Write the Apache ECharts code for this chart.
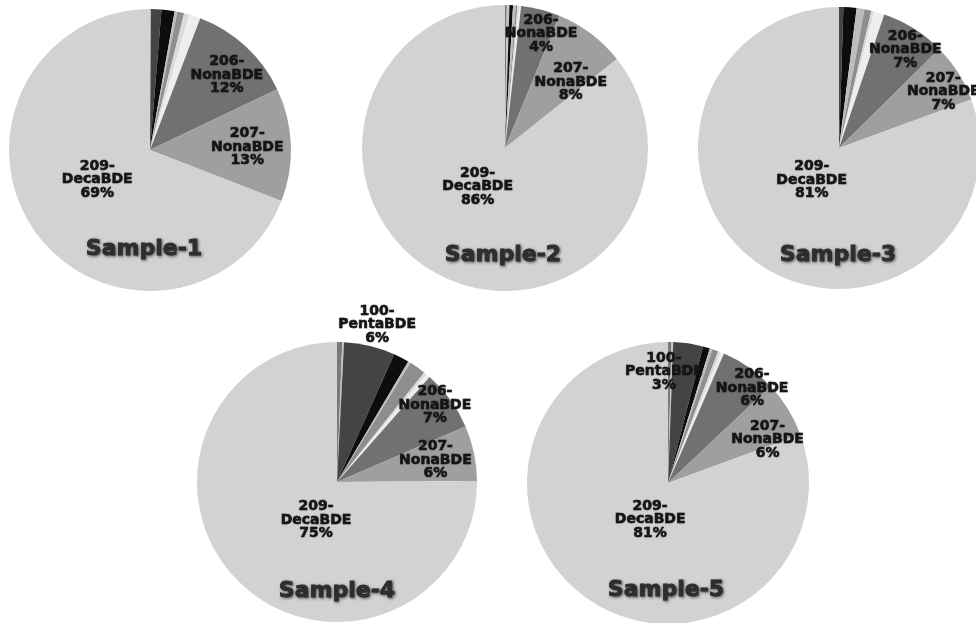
<!DOCTYPE html>
<html>
<head>
<meta charset="utf-8">
<script src="https://cdn.jsdelivr.net/npm/echarts@6/dist/echarts.min.js"></script>
<style>
html,body{margin:0;padding:0;background:#fff;}
#chart{width:976px;height:623px;}
</style>
</head>
<body>
<div id="chart"></div>
<script>
// ---- data ----
const categories = ["47-TetraBDE","99-PentaBDE","100-PentaBDE","153-HexaBDE","154-HexaBDE","183-HeptaBDE","196-OctaBDE","197-OctaBDE","206-NonaBDE","207-NonaBDE","209-DecaBDE"];
const sampleNames = ["Sample-1","Sample-2","Sample-3","Sample-4","Sample-5"];
const sample1 = [0.0, 0.1, 1.2, 1.5, 0.3, 0.8, 0.6, 1.3, 12.1, 13.0, 69.1];
const sample2 = [0.2, 0.3, 0.0, 0.4, 0.3, 0.2, 0.2, 0.2, 4.4, 8.1, 85.7];
const sample3 = [0.0, 0.0, 0.5, 1.5, 0.9, 0.8, 0.3, 1.2, 7.4, 6.8, 80.6];
const sample4 = [0.6, 0.2, 5.9, 1.8, 0.3, 1.9, 0.3, 0.5, 7.0, 6.4, 75.1];
const sample5 = [0.4, 0.2, 3.4, 0.8, 0.3, 0.7, 0.3, 0.4, 6.45, 6.45, 80.6];
const samples = [sample1, sample2, sample3, sample4, sample5];

// ---- styling / layout ----
const colors = ["#7a7a7a","#c4c4c4","#444444","#0d0d0d","#bdbdbd","#8e8e8e","#dadada","#eeeeee","#717171","#9f9f9f","#d2d2d2"];
const pieLayout = [
  {c:[150,150], r:141, title:[144,249]},
  {c:[505,148], r:143, title:[503,255]},
  {c:[839,148], r:141, title:[838,255]},
  {c:[337,482], r:140, title:[337,591]},
  {c:[668,483], r:141, title:[666,590]}
];
// label placement: [radius fraction, angular offset in degrees from slice mid-angle]
const labelPlace = [
  {"206-NonaBDE":[0.76,3.1],"207-NonaBDE":[0.69,0.6],"209-DecaBDE":[0.43,4.9]},
  {"206-NonaBDE":[0.84,3.1],"207-NonaBDE":[0.65,8.1],"209-DecaBDE":[0.33,9.7]},
  {"206-NonaBDE":[0.84,2.0],"207-NonaBDE":[0.84,4.1],"209-DecaBDE":[0.30,5.3]},
  {"100-PentaBDE":[1.16,0.8],"206-NonaBDE":[0.89,-2.2],"207-NonaBDE":[0.72,-0.6],"209-DecaBDE":[0.31,-15.9]},
  {"100-PentaBDE":[0.79,-10.4],"206-NonaBDE":[0.90,6.5],"207-NonaBDE":[0.77,8.3],"209-DecaBDE":[0.29,-9]}
];

const labelFont = 'DejaVu Sans';

function midAngle(vals, idx){
  const total = vals.reduce((a,b)=>a+b,0);
  let cum = 0;
  for (let i=0;i<idx;i++) cum += vals[i];
  return (cum + vals[idx]/2) / total * Math.PI * 2;
}

const series = samples.map((vals, s) => {
  const total = vals.reduce((a,b)=>a+b,0);
  const L = pieLayout[s];
  return {
    type: 'pie',
    center: L.c,
    radius: [0, L.r],
    startAngle: 90,
    clockwise: true,
    silent: true,
    avoidLabelOverlap: false,
    minAngle: 0,
    itemStyle: {borderWidth: 0},
    labelLine: {show: false},
    label: {
      position: 'inside',
      rotate: 0,
      color: '#151515',
      fontFamily: labelFont,
      fontWeight: 'bold',
      fontSize: 14,
      lineHeight: 13.5,
      align: 'center',
      textBorderColor: '#151515',
      textBorderWidth: 0.5,
      textShadowColor: 'rgba(0,0,0,0.25)',
      textShadowBlur: 1.5,
      formatter: p => p.name.replace('-', '-\n') + '\n' + Math.round(p.percent) + '%'
    },
    labelLayout: function(params){
      const i = params.dataIndex;
      const place = labelPlace[s][categories[i]];
      if (!place) return {};
      const a = midAngle(vals, i) + place[1] * Math.PI / 180;
      const tx = L.c[0] + L.r * place[0] * Math.sin(a);
      const ty = L.c[1] - L.r * place[0] * Math.cos(a);
      const lr = params.labelRect;
      return {dx: tx - (lr.x + lr.width/2), dy: ty - (lr.y + lr.height/2)};
    },
    data: categories.map((name, i) => ({
      name: name,
      value: vals[i],
      itemStyle: {color: colors[i]},
      label: {show: vals[i] / total >= 0.03}
    }))
  };
});

const titles = sampleNames.map((t, s) => ({
  text: t,
  left: pieLayout[s].title[0],
  top: pieLayout[s].title[1] - 11,
  textAlign: 'center',
  padding: 0,
  textStyle: {
    fontFamily: labelFont,
    fontWeight: 'bold',
    fontSize: 22,
    color: '#2e2e2e',
    textBorderColor: '#2e2e2e',
    textBorderWidth: 0.8,
    textShadowColor: 'rgba(0,0,0,0.55)',
    textShadowBlur: 3,
    textShadowOffsetX: 1,
    textShadowOffsetY: 1
  }
}));

const chart = echarts.init(document.getElementById('chart'), null, {renderer: 'canvas'});
chart.setOption({
  backgroundColor: '#ffffff',
  animation: false,
  title: titles,
  series: series
});
</script>
</body>
</html>
